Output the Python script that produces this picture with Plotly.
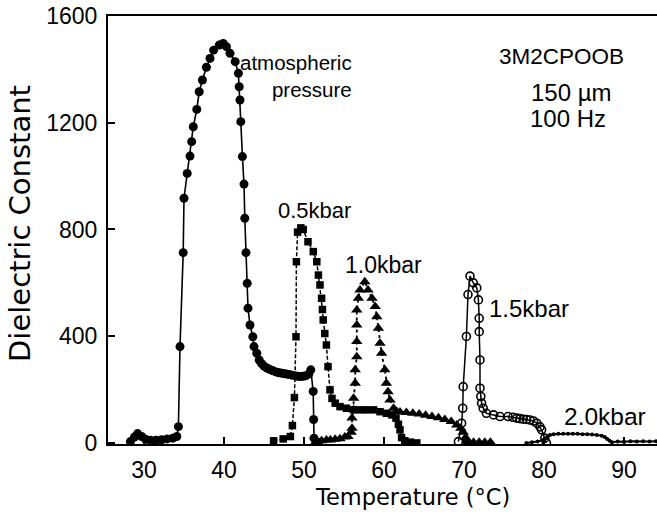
import plotly.graph_objects as go

# ---- data ----
atm_x = [28.3, 28.8, 29.2, 29.7, 30.2, 30.8, 31.5, 32.2, 32.9, 33.6, 34.1, 34.3, 34.5, 34.9, 35.0,
         35.4, 35.75, 35.96, 36.16, 36.6, 36.9, 37.3, 37.8, 38.25, 38.7, 39.4, 39.9, 40.3, 40.75,
         41.4, 41.8, 41.9, 42.0, 42.1, 42.3, 42.5, 42.6, 42.75, 42.9, 43.0, 43.25, 43.6, 43.75,
         44.1, 44.4, 44.7, 45.0, 45.35, 45.7, 46.05, 46.4, 46.75, 47.1, 47.45, 47.8, 48.15, 48.5,
         48.85, 49.2, 49.55, 49.9, 50.25, 50.6, 50.85, 51.15, 51.2, 51.25, 51.8]
atm_y = [5, 22, 35, 24, 14, 10, 10, 12, 15, 18, 24, 61, 361, 713, 917,
         1010, 1075, 1129, 1185, 1250, 1316, 1360, 1408, 1441, 1472, 1491, 1497, 1485, 1460,
         1429, 1385, 1335, 1285, 1204, 1073, 970, 842, 713, 598, 505, 442, 398, 361,
         336, 311, 297, 288, 281, 276, 271, 267, 264, 262, 260, 258, 256, 254, 252,
         250, 249, 250, 252, 258, 274, 193, 88, 18, 3]

sq_x = [46.2, 47.4, 48.3, 48.55, 48.8, 49.0, 49.05, 49.2, 49.6, 49.9, 50.5, 51.16, 51.6, 51.8,
        52.0, 52.2, 52.3, 52.4, 52.6, 52.8, 53.0, 53.25, 53.5, 53.9, 54.5, 55.3, 56.2, 57.0,
        57.8, 58.7, 59.5, 60.3, 61.0, 61.5, 61.8, 62.0, 62.2, 62.6, 63.3, 64.1]
sq_y = [8, 15, 24, 65, 170, 398, 679, 790, 806, 800, 754, 717, 679, 629,
        592, 542, 500, 461, 410, 367, 286, 199, 167, 149, 136, 130, 124, 124,
        124, 124, 117, 111, 105, 93, 70, 49, 20, 8, 3, 0]

tri_x = [51.5, 52.2, 52.8, 53.3, 53.9, 54.5, 55.1, 55.5, 55.9, 56.0, 56.0, 56.2, 56.2, 56.4,
         56.4, 56.6, 56.6, 56.6, 56.6, 56.8, 57.0, 57.6, 58.0, 58.5, 58.9, 59.1, 59.3, 59.5,
         59.7, 60.1, 60.3, 60.5, 60.75, 61.2, 61.6, 62.0, 62.8, 63.6, 64.4, 65.2, 66.0, 66.8,
         67.6, 68.4, 69.1, 69.6, 69.9, 70.2, 70.5, 71.2, 71.9, 72.6, 73.3]
tri_y = [5, 8, 11, 11, 14, 16, 22, 24, 40, 55, 93, 124, 167, 224,
         274, 323, 380, 442, 498, 542, 573, 604, 573, 542, 511, 473, 430, 374,
         336, 274, 224, 192, 161, 130, 118, 116, 114, 111, 108, 104, 99, 94,
         88, 80, 67, 55, 40, 20, 5, 3, 3, 3, 3]

oc_x = [69.3, 69.7, 69.84, 69.9, 70.3, 70.5, 70.75, 71.16, 71.6, 71.8, 71.9, 71.9, 72.0, 72.0,
        72.1, 72.2, 72.4, 72.8, 73.7, 74.5, 75.5, 76.1, 76.6, 77.0, 77.4, 77.8, 78.25, 78.7,
        79.1, 79.5, 79.7, 80.1, 80.3]
oc_y = [5, 74, 130, 211, 399, 556, 625, 600, 581, 536, 467, 417, 311, 205,
        174, 149, 130, 111, 105, 99, 99, 96, 93, 91, 89, 88, 86, 82,
        74, 60, 49, 18, 0]

d2_x = [77.8, 78.5, 79.2, 79.9, 80.4, 80.75, 81.2, 81.8, 82.4, 83.0, 83.6, 84.2, 84.8, 85.4,
        86.0, 86.6, 87.2, 87.6, 87.9, 88.2, 88.5, 89.2, 90.0, 90.8, 91.6, 92.4, 93.2, 94.0]
d2_y = [0, 3, 5, 11, 22, 30, 33, 34, 34, 34, 34, 34, 33, 33,
        32, 30, 27, 22, 15, 8, 3, 5, 4, 6, 5, 6, 5, 6]

x_ticks = [30, 40, 50, 60, 70, 80, 90]
y_ticks = [0, 400, 800, 1200, 1600]

FONT = "Liberation Sans, Arial, sans-serif"
TFONT = "DejaVu Sans, sans-serif"
BLACK = "black"

fig = go.Figure()
fig.add_trace(go.Scatter(x=atm_x, y=atm_y, mode="lines+markers",
                         line=dict(color=BLACK, width=1.6),
                         marker=dict(symbol="circle", size=9, color=BLACK)))
fig.add_trace(go.Scatter(x=sq_x, y=sq_y, mode="lines+markers",
                         line=dict(color=BLACK, width=1.5, dash="4px,2px"),
                         marker=dict(symbol="square", size=7.5, color=BLACK)))
fig.add_trace(go.Scatter(x=tri_x, y=tri_y, mode="lines+markers",
                         line=dict(color=BLACK, width=1.8, dash="dot"),
                         marker=dict(symbol="triangle-up", size=10, color=BLACK)))
fig.add_trace(go.Scatter(x=oc_x, y=oc_y, mode="lines+markers",
                         line=dict(color=BLACK, width=1.5),
                         marker=dict(symbol="circle-open", size=8, color=BLACK,
                                     line=dict(width=1.6, color=BLACK))))
fig.add_trace(go.Scatter(x=d2_x, y=d2_y, mode="lines+markers",
                         line=dict(color=BLACK, width=2),
                         marker=dict(symbol="circle", size=4, color=BLACK)))


def label(x, y, text, size, xanchor="left", align="left"):
    fig.add_annotation(x=x, y=y, text=text, xanchor=xanchor, yanchor="middle", align=align,
                       showarrow=False, font=dict(family=FONT, size=size, color=BLACK))


label(56.25, 1375, "atmospheric<br>pressure", 20.5, xanchor="right", align="right")
label(46.5, 871, "0.5kbar", 22)
label(54.875, 665, "1.0kbar", 23)
label(72.875, 503, "1.5kbar", 24)
label(82.25, 98, "2.0kbar", 24.5)
label(74.125, 1450, "3M2CPOOB", 22.5)
label(78.125, 1315, "150 µm", 24)
label(78.0, 1217, "100 Hz", 24)

# axis titles as annotations (paper coords relative to the plot area)
PL, PW, PB, PH = 108, 549, 444, 428
fig.add_annotation(xref="paper", yref="paper", x=(412 - PL) / PW, y=(PB - 497) / PH,
                   text="Temperature (°C)", xanchor="center", yanchor="middle",
                   showarrow=False, font=dict(family=TFONT, size=22.5, color=BLACK))
fig.add_annotation(xref="paper", yref="paper", x=(20 - PL) / PW, y=(PB - 224) / PH,
                   text="Dielectric Constant", textangle=-90, xanchor="center",
                   yanchor="middle", showarrow=False,
                   font=dict(family=TFONT, size=29, color=BLACK))

fig.update_layout(
    width=657, height=514,
    margin=dict(l=PL, r=0, t=16, b=514 - PB),
    paper_bgcolor="white", plot_bgcolor="white",
    showlegend=False,
    font=dict(family=FONT, color=BLACK),
)
fig.update_xaxes(range=[25.5, 94.125], tickvals=x_ticks, ticktext=[str(v) for v in x_ticks],
                 ticks="inside", ticklen=7, tickwidth=1.5, tickcolor=BLACK,
                 showline=True, linecolor=BLACK, linewidth=2, mirror=True,
                 showgrid=False, zeroline=False, ticklabelstandoff=4,
                 tickfont=dict(family=FONT, size=23, color=BLACK))
fig.update_yaxes(range=[-4, 1600], tickvals=y_ticks, ticktext=[str(v) for v in y_ticks],
                 ticks="inside", ticklen=7, tickwidth=1.5, tickcolor=BLACK,
                 showline=True, linecolor=BLACK, linewidth=2, mirror=False,
                 showgrid=False, zeroline=False, ticklabelstandoff=4,
                 tickfont=dict(family=FONT, size=23, color=BLACK))

# remove the default 8px page margin so the 657x514 figure fills the window exactly
fig.write_html("out.html", config={"displayModeBar": False},
               post_script="document.body.style.margin='0';document.body.style.overflow='hidden';")
